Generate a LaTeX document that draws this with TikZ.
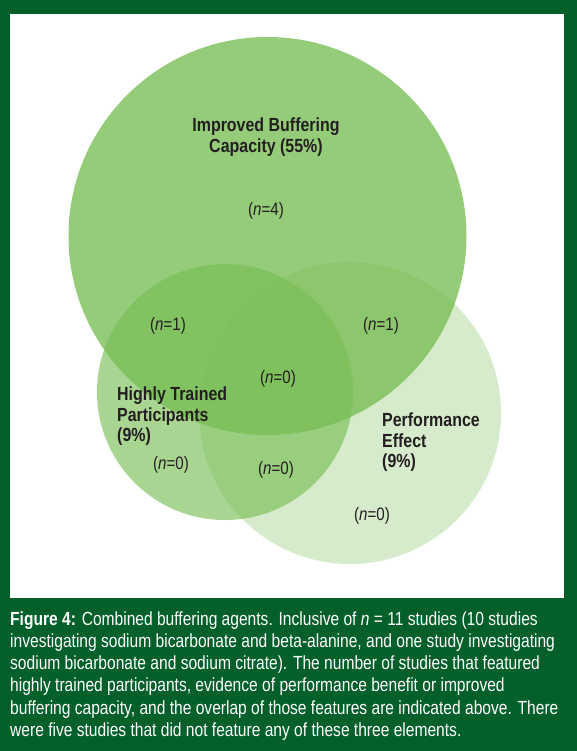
\documentclass[tikz,border=0pt]{standalone}
\usepackage{fontspec}
\setmainfont{Liberation Sans}[FakeStretch=0.84]
\newfontfamily\capfont{Liberation Sans}[FakeStretch=0.82]
\definecolor{dkgreen}{RGB}{3,96,42}
\definecolor{vgreen}{RGB}{120,190,84}
\definecolor{txt}{RGB}{35,31,32}
\begin{document}
\begin{tikzpicture}[x=1pt,y=-1pt,
  lab/.style={inner sep=0pt, text=txt, font=\fontsize{19}{20.5}\selectfont\bfseries},
  cnt/.style={inner sep=0pt, text=txt, anchor=base, font=\fontsize{18}{20}\selectfont},
  capline/.style={inner sep=0pt, text=white, anchor=base west, font=\capfont\fontsize{19}{22}\selectfont}]
\useasboundingbox (0,0) rectangle (577,751);
\fill[dkgreen] (0,0) rectangle (577,751);
\fill[white] (10,14) rectangle (564,598);
% circles
\fill[vgreen, opacity=0.78] (267.5,236) circle[radius=199pt];
\fill[vgreen, opacity=0.63] (225,392) circle[radius=128pt];
\fill[vgreen, opacity=0.30] (350,413) circle[radius=151pt];
% set labels
\node[lab, anchor=north, align=center] (ibc) at (266,118) {Improved Buffering\\Capacity (55\%)};
\node[lab, anchor=north west, align=left] (htp) at (117,387) {Highly Trained\\Participants\\(9\%)};
\node[lab, anchor=north west, align=left] (pe) at (382,413) {Performance\\Effect\\(9\%)};
% counts
\node[cnt] (n4) at (266,215) {(\textit{n}=4)};
\node[cnt] (n1a) at (168,330) {(\textit{n}=1)};
\node[cnt] (n1b) at (381,330) {(\textit{n}=1)};
\node[cnt] (n0c) at (278,383) {(\textit{n}=0)};
\node[cnt] (n0l) at (171,469) {(\textit{n}=0)};
\node[cnt] (n0m) at (276,474) {(\textit{n}=0)};
\node[cnt] (n0r) at (372,520) {(\textit{n}=0)};
% caption
\node[capline] (c1) at (10,625) {\textbf{Figure 4:} Combined buffering agents. Inclusive of \textit{n} = 11 studies (10 studies};
\node[capline] (c2) at (10,647.3) {investigating sodium bicarbonate and beta-alanine, and one study investigating};
\node[capline] (c3) at (10,669.6) {sodium bicarbonate and sodium citrate). The number of studies that featured};
\node[capline] (c4) at (10,691.9) {highly trained participants, evidence of performance benefit or improved};
\node[capline] (c5) at (10,714.2) {buffering capacity, and the overlap of those features are indicated above. There};
\node[capline] (c6) at (10,736.5) {were five studies that did not feature any of these three elements.};
\end{tikzpicture}
\end{document}
